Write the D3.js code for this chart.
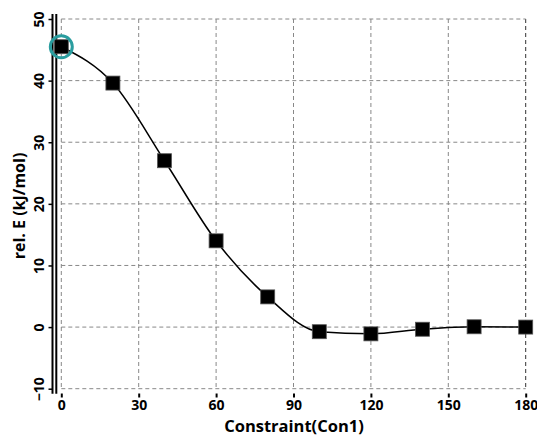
<!DOCTYPE html>
<html><head><meta charset="utf-8">
<script src="https://cdn.jsdelivr.net/npm/d3@7"></script>
<style>body{margin:0;background:#fff;} svg{display:block;}</style>
</head><body>
<svg id="c" width="537" height="438"></svg>
<script>
const constraint = [0, 20, 40, 60, 80, 100, 120, 140, 160, 180];
const energy = [45.5, 39.6, 27.0, 14.0, 4.9, -0.75, -1.1, -0.35, 0.05, 0.0];
const xTicks = [0, 30, 60, 90, 120, 150, 180];
const yTicks = [-10, 0, 10, 20, 30, 40, 50];
const xLabel = "Constraint(Con1)";
const yLabel = "rel. E (kJ/mol)";

const svg = d3.select("#c");
const x = d3.scaleLinear().domain([0, 180]).range([61.3, 525.7]);
const y = d3.scaleLinear().domain([-10, 50]).range([388.7, 19]);
const font = "'Open Sans', sans-serif";

// grid
svg.append("g").selectAll("line").data(xTicks).join("line")
  .attr("x1", d => x(d)).attr("x2", d => x(d)).attr("y1", y(50)).attr("y2", y(-10))
  .attr("stroke", d => d === 180 ? "#333" : "#888").attr("stroke-width", 1).attr("stroke-dasharray", "4,3");
svg.append("g").selectAll("line").data(yTicks).join("line")
  .attr("y1", d => y(d)).attr("y2", d => y(d)).attr("x1", x(0)).attr("x2", x(180))
  .attr("stroke", "#888").attr("stroke-width", 1).attr("stroke-dasharray", "4,3");

// y axis (double line)
const yAxis = d3.axisLeft(y).tickValues(yTicks).tickSize(4).tickPadding(5).tickFormat(d3.format("d"));
const gy = svg.append("g").attr("transform", "translate(52.5,0)").call(yAxis);
gy.select(".domain").attr("d", `M0,${y(50)-5}V${y(-10)+5}`).attr("stroke", "#000").attr("stroke-width", 2);
gy.selectAll(".tick line").attr("stroke", "#000").attr("stroke-width", 1.5);
gy.selectAll(".tick text").attr("transform", "rotate(-90)").attr("x", 0).attr("y", -9)
  .attr("dy", "0").attr("text-anchor", "middle")
  .style("font-family", font).style("font-weight", "bold").style("font-size", "14px").attr("fill", "#000");
svg.append("line").attr("x1", 56.3).attr("x2", 56.3).attr("y1", y(50) - 5).attr("y2", y(-10) + 5)
  .attr("stroke", "#000").attr("stroke-width", 2);

// x axis
const xAxis = d3.axisBottom(x).tickValues(xTicks).tickSize(4).tickPadding(3).tickFormat(d3.format("d"));
const gx = svg.append("g").attr("transform", "translate(0,393.5)").call(xAxis);
gx.select(".domain").attr("d", `M${55}H${529}`).attr("stroke", "#000").attr("stroke-width", 3);
gx.selectAll(".tick line").attr("stroke", "#000").attr("stroke-width", 2);
gx.selectAll(".tick text").style("font-family", font).style("font-weight", "bold").style("font-size", "14px").attr("fill", "#000");

// curve
const line = d3.line().x((d, i) => x(constraint[i])).y(d => y(d)).curve(d3.curveMonotoneX);
svg.append("path").datum(energy).attr("d", line).attr("fill", "none").attr("stroke", "#000").attr("stroke-width", 1.5);

// markers
const s = 14;
svg.append("g").selectAll("rect").data(energy).join("rect")
  .attr("x", (d, i) => x(constraint[i]) - s / 2).attr("y", d => y(d) - s / 2)
  .attr("width", s).attr("height", s).attr("fill", "#000").attr("stroke", "#555").attr("stroke-width", 0.8);

// highlight ring
svg.append("circle").attr("cx", x(constraint[0])).attr("cy", y(energy[0])).attr("r", 11)
  .attr("fill", "none").attr("stroke", "#2a9d9f").attr("stroke-width", 3);

// labels
svg.append("text").attr("x", 294).attr("y", 432).attr("text-anchor", "middle")
  .style("font-family", font).style("font-weight", "bold").style("font-size", "16.5px").text(xLabel);
svg.append("text").attr("transform", "translate(25,206) rotate(-90)").attr("text-anchor", "middle")
  .style("font-family", font).style("font-weight", "bold").style("font-size", "16px").text(yLabel);
</script>
</body></html>
